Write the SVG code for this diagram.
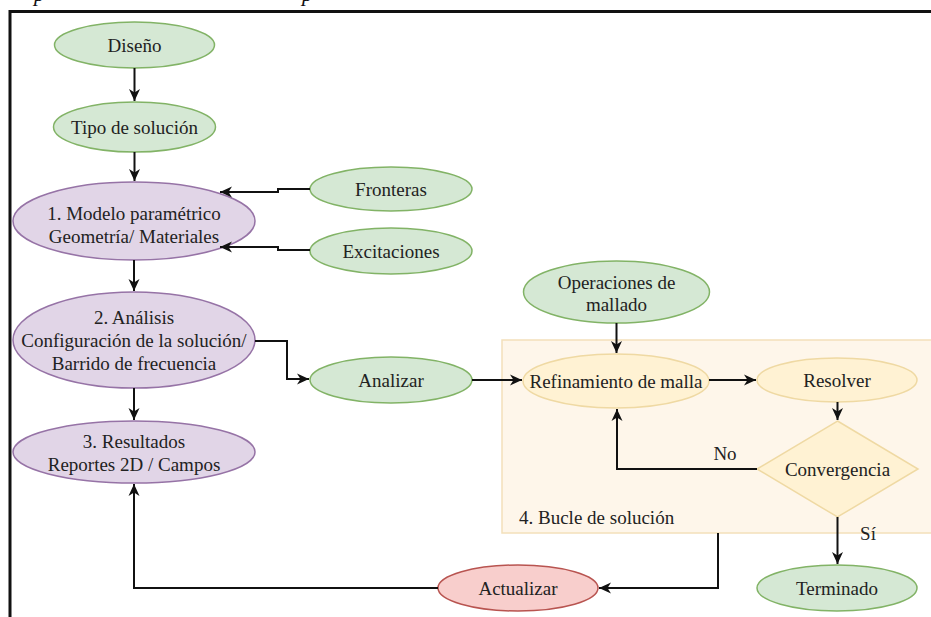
<svg xmlns="http://www.w3.org/2000/svg" width="931" height="617" viewBox="0 0 931 617">
  <style>
    text { font-family: "Liberation Serif", "DejaVu Serif", "Noto Serif", serif; font-size: 19px; fill: #222; }
    .c { text-anchor: middle; }
    .green { fill: #d5e8d4; stroke: #82b366; stroke-width: 1.5; }
    .purple { fill: #e1d5e7; stroke: #9673a6; stroke-width: 1.5; }
    .yellow { fill: #fff2d3; stroke: #efd9a3; stroke-width: 1.5; }
    .red { fill: #f8cecc; stroke: #b85450; stroke-width: 1.5; }
    .edge { fill: none; stroke: #111; stroke-width: 2; marker-end: url(#arr); }
    .cap { font-style: italic; font-size: 22px; fill: #111; }
  </style>
  <defs>
    <marker id="arr" markerUnits="userSpaceOnUse" markerWidth="14" markerHeight="14" viewBox="0 0 14 14" refX="12" refY="7" orient="auto">
      <path d="M0,1.5 L12,7 L0,12.5 L3.5,7 Z" fill="#111"/>
    </marker>
  </defs>
  <rect width="931" height="617" fill="#ffffff"/>
  <text class="cap" x="34" y="1">p</text>
  <text class="cap" x="302" y="1">p</text>
  <rect x="10" y="11.5" width="930" height="620" fill="none" stroke="#111" stroke-width="3"/>

  <g id="bucle">
    <rect x="502" y="340" width="440" height="193" fill="#fef6ea" stroke="#f3e0ba" stroke-width="1.5"/>
    <text x="519" y="524">4. Bucle de solución</text>
  </g>

  <g id="diseno">
    <ellipse class="green" cx="134.5" cy="45" rx="80" ry="23"/>
    <text class="c" x="134.5" y="51.5">Diseño</text>
  </g>
  <g id="tipo">
    <ellipse class="green" cx="134.5" cy="127" rx="81" ry="25"/>
    <text class="c" x="134.5" y="133.5">Tipo de solución</text>
  </g>
  <g id="modelo">
    <ellipse class="purple" cx="134" cy="221" rx="121" ry="39"/>
    <text class="c" x="134" y="220">1. Modelo paramétrico</text>
    <text class="c" x="134" y="243">Geometría/ Materiales</text>
  </g>
  <g id="fronteras">
    <ellipse class="green" cx="391" cy="189" rx="81" ry="22"/>
    <text class="c" x="391" y="196">Fronteras</text>
  </g>
  <g id="excitaciones">
    <ellipse class="green" cx="391" cy="251" rx="81" ry="23"/>
    <text class="c" x="391" y="258">Excitaciones</text>
  </g>
  <g id="analisis">
    <ellipse class="purple" cx="134" cy="340" rx="121" ry="48"/>
    <text class="c" x="134" y="324">2. Análisis</text>
    <text class="c" x="134" y="347">Configuración de la solución/</text>
    <text class="c" x="134" y="370">Barrido de frecuencia</text>
  </g>
  <g id="resultados">
    <ellipse class="purple" cx="134" cy="452" rx="121" ry="31"/>
    <text class="c" x="134" y="448">3. Resultados</text>
    <text class="c" x="134" y="471">Reportes 2D / Campos</text>
  </g>
  <g id="analizar">
    <ellipse class="green" cx="391" cy="380" rx="81" ry="23"/>
    <text class="c" x="391" y="386.5">Analizar</text>
  </g>
  <g id="operaciones">
    <ellipse class="green" cx="616.5" cy="292" rx="93" ry="31"/>
    <text class="c" x="616.5" y="289">Operaciones de</text>
    <text class="c" x="616.5" y="311">mallado</text>
  </g>
  <g id="refinamiento">
    <ellipse class="yellow" cx="616" cy="381" rx="93" ry="27"/>
    <text class="c" x="616" y="387.5">Refinamiento de malla</text>
  </g>
  <g id="resolver">
    <ellipse class="yellow" cx="837" cy="380" rx="80" ry="22"/>
    <text class="c" x="837" y="386.5">Resolver</text>
  </g>
  <g id="convergencia">
    <polygon class="yellow" points="837.5,421 918,469 837.5,517 757,469"/>
    <text class="c" x="837.5" y="475.5">Convergencia</text>
  </g>
  <g id="terminado">
    <ellipse class="green" cx="837" cy="588" rx="80" ry="23"/>
    <text class="c" x="837" y="594.5">Terminado</text>
  </g>
  <g id="actualizar">
    <ellipse class="red" cx="518" cy="588" rx="80" ry="23"/>
    <text class="c" x="518" y="594.5">Actualizar</text>
  </g>

  <g id="connectors">
    <path class="edge" d="M134.5,68 L134.5,101"/>
    <path class="edge" d="M134.5,152 L134.5,181"/>
    <path class="edge" d="M310,189 L278,189 L278,192 L220,192"/>
    <path class="edge" d="M310,250 L278,250 L278,247 L220,247"/>
    <path class="edge" d="M134,260 L134,291"/>
    <path class="edge" d="M255,341 L287,341 L287,379 L309,379"/>
    <path class="edge" d="M134,388 L134,420"/>
    <path class="edge" d="M472,380 L522,380"/>
    <path class="edge" d="M616.5,323 L616.5,353"/>
    <path class="edge" d="M709,380 L756,380"/>
    <path class="edge" d="M837.5,402 L837.5,420"/>
    <path class="edge" d="M757,469 L617,469 L617,409"/>
    <path class="edge" d="M837.5,517 L837.5,564"/>
    <path class="edge" d="M718,533 L718,588 L599,588"/>
    <path class="edge" d="M438,588 L134,588 L134,484"/>
    <text class="c" x="725" y="460">No</text>
    <text class="c" x="868" y="540">Sí</text>
  </g>
</svg>
